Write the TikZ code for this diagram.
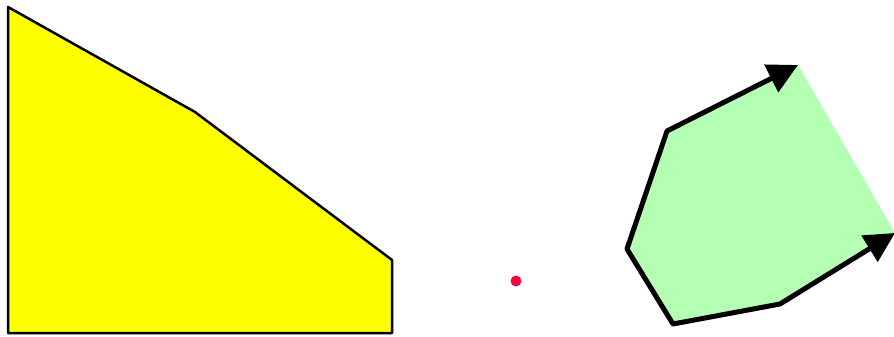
\documentclass[tikz,border=0pt]{standalone}
\usepackage{tikz}
\usetikzlibrary{arrows.meta}
\definecolor{polyyellow}{RGB}{255, 255, 0}
\definecolor{polygreen}{RGB}{180, 255, 180}
\definecolor{dotred}{RGB}{240, 10, 60}

\begin{document}
\begin{tikzpicture}[x=1pt, y=-1pt]
    \useasboundingbox (0, 0) rectangle (894, 337);

    % 黄色多边形
    \fill[polyyellow] (8, 7) -- (195, 112) -- (392, 260) -- (392, 333) -- (8, 333) -- cycle;
    \draw[line width=2.5pt, line join=round] (8, 7) -- (195, 112) -- (392, 260) -- (392, 333) -- (8, 333) -- cycle;

    % 红点
    \fill[dotred] (516, 281) circle (5.5);

    % 绿色多边形
    \coordinate (p1) at (798, 65);
    \coordinate (p2) at (667, 131);
    \coordinate (p3) at (627, 249);
    \coordinate (p4) at (673, 324);
    \coordinate (p5) at (780, 304);
    \coordinate (p6) at (895, 233);
    \fill[polygreen] (p1) -- (p2) -- (p3) -- (p4) -- (p5) -- (p6) -- cycle;

    % 带箭头的边
    \draw[line width=5pt, line join=round, {Triangle[length=30pt, width=30pt]}-{Triangle[length=30pt, width=30pt]}]
        (p1) -- (p2) -- (p3) -- (p4) -- (p5) -- (p6);
\end{tikzpicture}
\end{document}
